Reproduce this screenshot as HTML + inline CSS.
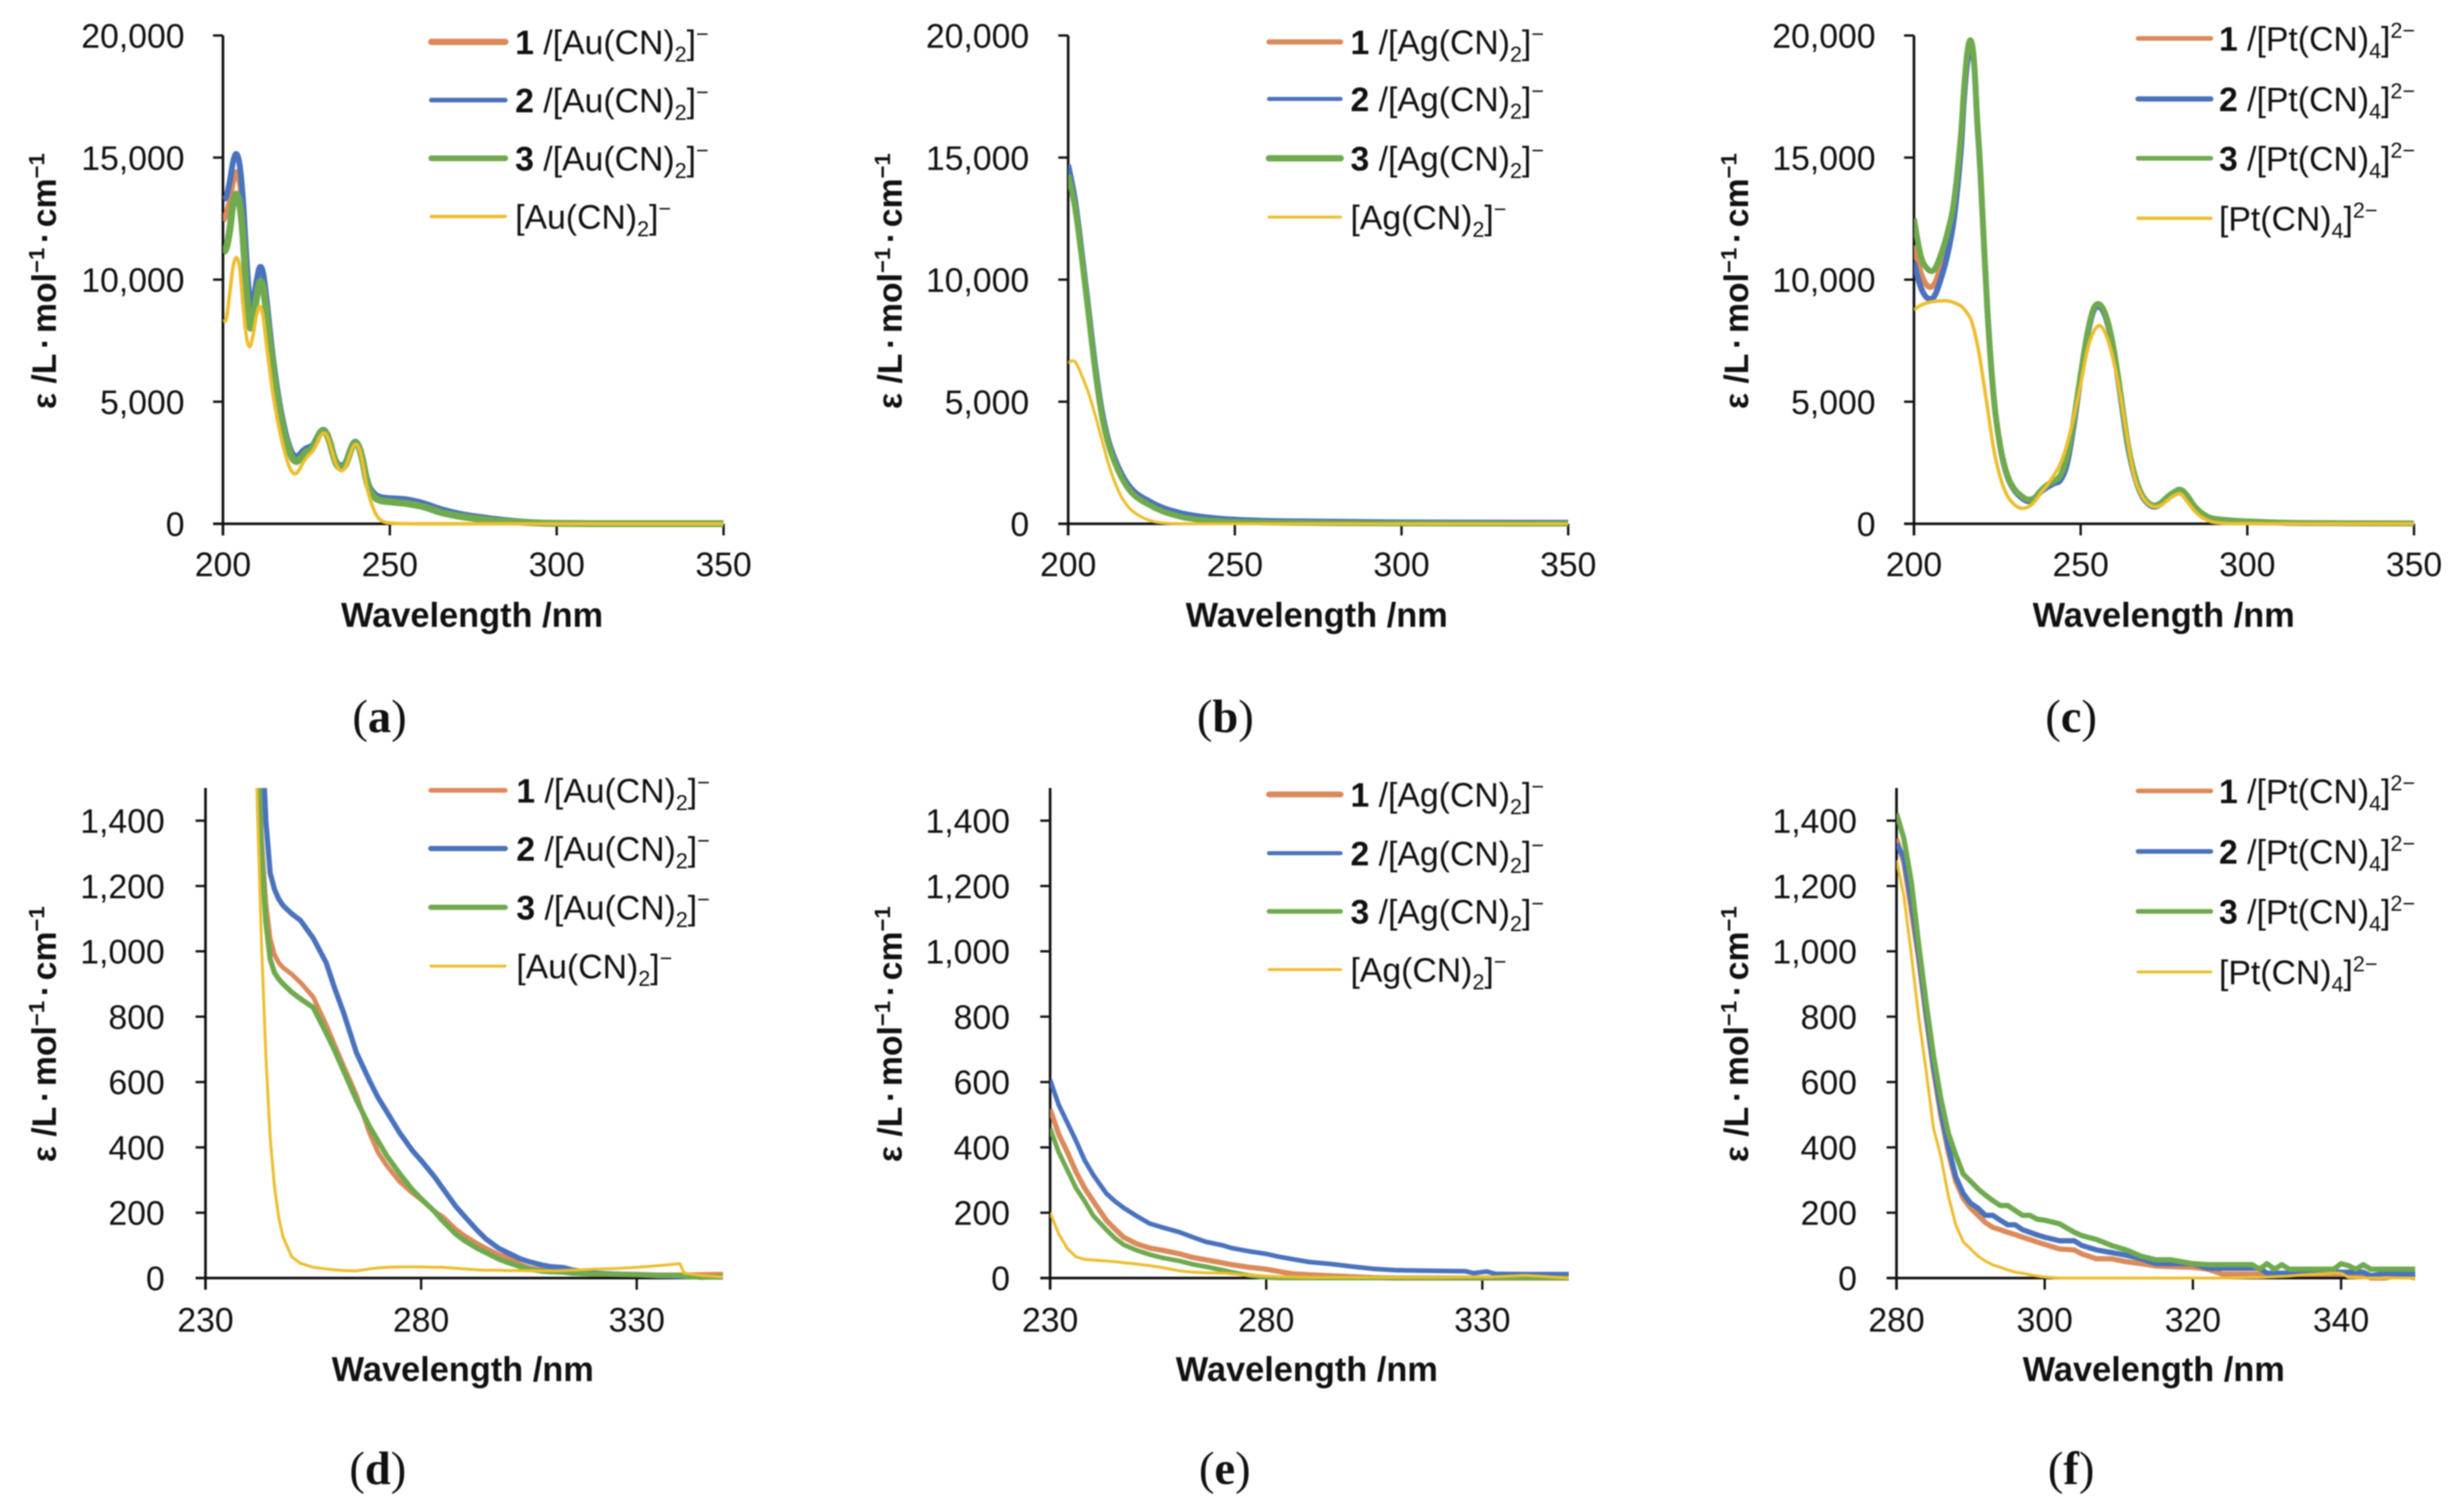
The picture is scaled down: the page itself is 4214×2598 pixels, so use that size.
<!DOCTYPE html>
<html lang="en">
<head>
<meta charset="utf-8">
<title>UV-vis absorption spectra panels</title>
<style>
html,body{margin:0;padding:0;background:#fff;}
#stage{display:block;width:4214px;height:2598px;filter:blur(1px);}
text{font-family:"Liberation Sans",Arial,sans-serif;fill:#111;}
.cap{font-family:"Liberation Serif","Times New Roman",serif;}
</style>
</head>
<body>
<svg id="stage" xmlns="http://www.w3.org/2000/svg" width="4214" height="2598" viewBox="0 0 4214 2598"></svg>
<script>
/* ---------- Panel (a) ---------- */
const a_wavelengths=[200,201,202,203,204,205,206,207,208,209,210,211,212,213,214,215,216,217,218,219,220,221,222,223,224,225,226,227,228,229,230,231,232,233,234,235,236,237,238,239,240,241,242,243,244,245,246,247,248,250,255,260,265,270,275,280,285,290,295,300,310,320,350];
const a_complex1=[12400,12700,13200,14000,14400,14000,12600,10400,8700,8600,9400,10000,9800,8900,7700,6500,5500,4700,4000,3450,3000,2720,2650,2750,2900,3020,3080,3200,3450,3720,3820,3720,3370,2870,2480,2340,2340,2540,2940,3270,3320,3070,2540,1850,1400,1190,1060,1000,970,950,880,740,520,360,260,170,110,70,35,22,10,6,6];
const a_complex2=[13300,13400,14000,14800,15150,14700,13300,11000,9200,9100,9900,10500,10300,9300,8000,6800,5800,4900,4200,3600,3150,2850,2750,2850,3000,3100,3150,3250,3500,3750,3850,3750,3400,2900,2550,2400,2400,2600,3000,3300,3350,3100,2600,1950,1500,1300,1170,1110,1080,1050,1000,850,620,440,320,230,150,90,50,30,15,10,10];
const a_complex3=[11100,11300,12000,13100,13500,13100,11800,9600,8100,8300,9200,9900,9700,8700,7500,6400,5400,4600,3900,3400,2950,2650,2550,2650,2800,2950,3000,3150,3400,3700,3800,3700,3350,2850,2450,2300,2300,2500,2900,3250,3300,3050,2500,1800,1350,1150,1020,960,930,900,830,700,480,330,230,150,100,60,30,20,8,5,5];
const a_free=[8300,8400,9400,10500,10900,10500,9000,7700,7250,7700,8500,8900,8500,7400,6300,5300,4500,3800,3200,2700,2300,2080,2060,2250,2500,2700,2850,3000,3250,3550,3700,3650,3300,2800,2400,2200,2200,2400,2800,3150,3250,3000,2400,1600,1050,650,350,180,90,30,5,0,0,0,0,0,0,0,0,0,0,0,0];

/* ---------- Panel (b) ---------- */
const b_wavelengths=[200,202,204,206,208,210,212,214,216,218,220,222,224,226,228,230,235,240,245,250,260,270,280,300,320,350];
const b_complex1=[14300,12950,10950,8700,6400,4550,3350,2550,1950,1500,1200,1000,850,700,580,480,300,200,140,110,70,50,40,25,15,10];
const b_complex2=[14700,13300,11200,8900,6600,4700,3450,2650,2050,1600,1300,1100,950,800,680,580,400,290,220,170,120,100,85,60,50,45];
const b_complex3=[14300,13000,11000,8700,6400,4500,3300,2500,1900,1450,1150,950,800,650,530,430,250,160,110,80,50,35,25,15,10,5];
const b_free=[6600,6650,6100,5400,4500,3500,2500,1700,1100,700,450,280,160,80,40,20,5,0,0,0,0,0,0,0,0,0];

/* ---------- Panel (c) ---------- */
const c_wavelengths=[200,202,204,206,208,210,212,214,215,216,217,218,219,220,222,224,226,228,230,232,234,236,238,240,242,244,246,248,250,252,254,256,258,260,262,264,266,268,270,272,274,276,278,280,282,284,286,288,290,295,300,310,320,350];
const c_complex1=[11400,10300,9750,9800,10500,11500,12900,15500,17600,19100,19650,18950,16450,14250,8800,5100,3100,2000,1420,1130,960,1020,1320,1550,1700,1900,2650,4200,6050,7750,8800,8900,8300,7050,5250,3350,2080,1280,880,730,830,1080,1280,1380,1120,720,450,280,190,120,90,45,28,14];
const c_complex2=[10700,9700,9250,9300,10000,11000,12500,15200,17400,18900,19500,18900,16400,14200,8800,5100,3050,1950,1400,1100,930,1000,1300,1500,1650,1800,2500,4100,6000,7700,8750,8850,8250,7000,5200,3300,2050,1250,850,700,800,1050,1250,1350,1100,700,430,260,170,110,80,40,25,12];
const c_complex3=[12500,11000,10450,10400,11000,11900,13200,15800,17800,19300,19800,19000,16500,14300,8800,5100,3100,2000,1450,1170,1000,1050,1350,1600,1750,2000,2800,4300,6100,7800,8850,8950,8350,7100,5300,3400,2100,1300,900,750,850,1100,1300,1400,1150,750,480,300,210,140,100,50,30,15];
const c_free=[8760,8950,9050,9110,9130,9130,9060,8930,8800,8620,8400,7950,7350,6600,4800,3000,1850,1150,800,640,680,880,1250,1600,2000,2480,3300,4400,5700,7100,7900,8100,7600,6600,5200,3500,2000,1250,850,700,750,950,1150,1220,900,550,300,150,60,10,5,0,0,0];

/* ---------- Panel (d) ---------- */
const d_wavelengths=[240,242,243,244,245,246,247,248,250,252,255,258,260,262,265,268,270,272,275,278,280,283,285,288,290,293,295,298,300,303,305,308,310,313,315,320,325,330,335,340,341,345,350];
const d_complex1=[2900,1700,1350,1150,1040,990,965,950,930,905,860,775,712,650,560,445,385,345,295,260,240,205,188,150,130,106,92,72,63,42,32,25,22,20,18,15,13,12,10,10,10,11,12];
const d_complex2=[3000,2400,1700,1400,1240,1190,1160,1140,1115,1095,1040,965,885,813,690,605,553,510,445,390,360,312,275,220,190,146,120,91,78,59,50,40,35,32,25,15,12,10,7,5,5,3,3];
const d_complex3=[2900,1650,1300,1090,976,935,915,900,875,855,828,750,695,635,545,465,420,375,320,270,243,205,175,135,115,91,78,58,48,35,27,21,19,18,15,12,11,10,8,8,6,2,5];
const d_free=[2600,1450,1020,680,430,280,185,125,65,45,33,28,25,23,22,28,31,33,34,34,34,33,33,30,28,25,24,24,23,23,22,22,22,23,24,27,29,33,38,44,15,8,3];

/* ---------- Panel (e) ---------- */
const e_wavelengths=[230,232,234,236,238,240,243,245,247,250,253,256,260,263,266,270,272,276,280,283,286,290,295,300,305,310,320,326,328,331,333,340,350];
const e_complex1=[517,440,385,325,275,235,177,150,125,105,92,85,74,63,56,46,41,33,27,20,13,10,7,4,1,0,0,0,0,0,0,0,0];
const e_complex2=[606,530,475,420,360,315,259,235,215,190,167,155,140,125,111,100,92,82,74,65,58,49,43,35,28,24,22,21,15,20,13,12,12];
const e_complex3=[458,385,330,275,235,190,148,122,102,85,72,62,52,42,35,24,18,8,2,0,0,0,0,0,0,0,0,0,0,0,0,0,0];
const e_free=[200,135,90,65,57,55,52,50,47,43,38,32,22,18,16,15,13,9,6,4,3,2,2,2,2,2,2,3,3,3,4,8,0];

/* ---------- Panel (f) ---------- */
const f_wavelengths=[280,281,282,283,284,285,286,287,288,289,290,291,292,293,294,295,296,297,298,299,300,302,304,305,307,309,311,313,315,317,320,322,324,328,329,330,331,332,333,335,339,340,341,342,343,344,346,348,350];
const f_complex1=[1345,1271,1123,975,798,635,495,384,296,244,214,192,170,155,148,140,133,125,118,110,103,89,86,74,59,59,50,44,37,35,33,27,12,12,12,12,12,12,12,12,12,12,12,12,12,0,0,10,0];
const f_complex2=[1330,1286,1153,990,813,650,510,399,310,259,229,214,192,192,177,163,163,148,140,132,125,114,114,100,86,78,70,59,44,44,44,30,30,30,30,15,15,15,15,15,18,18,18,18,18,7,15,12,12];
const f_complex3=[1422,1345,1212,1020,843,680,547,443,377,318,296,273,254,237,222,222,207,192,192,180,177,166,140,130,118,100,86,67,56,56,44,41,41,41,27,44,27,41,27,27,27,44,38,27,41,27,27,27,27];
const f_free=[1279,1168,990,798,635,458,370,251,163,111,89,67,52,40,33,25,18,15,10,6,3,0,0,0,0,0,0,0,0,0,0,0,0,2,2,3,4,5,6,10,15,15,2,1,0,0,0,0,0];

/* ---------- Tick labels ---------- */
const top_y_ticks=[0,5000,10000,15000,20000];
const zoom_y_ticks=[0,200,400,600,800,1000,1200,1400];
const top_x_ticks=[200,250,300,350];
const zoom_x_ticks=[230,280,330];
const f_x_ticks=[280,300,320,340];

const colors=["#DB8A5A","#4A72BE","#6FAA4E","#EDBE30"];
const NS="http://www.w3.org/2000/svg";
const svg=document.getElementById("stage");

const panels=[
 {id:"a",metal:"Au(CN)",n:"2",chg:"−",wl:a_wavelengths,series:[a_complex1,a_complex2,a_complex3,a_free],xMin:200,xMax:350,yMax:20000,xTicks:top_x_ticks,yTicks:top_y_ticks,
  x0:383,x1:1243,y0:900,y1:61,widths:[10,10,12,6],legW:[11,8,10,6],smooth:true,labelR:317,titleX:76,titleY:483,xLabelX:811,xTickBase:990,xLabelBase:1079,capX:652,capBase:1258,legX:[741,868,885],legY:[72,172,272,372]},
 {id:"b",metal:"Ag(CN)",n:"2",chg:"−",wl:b_wavelengths,series:[b_complex1,b_complex2,b_complex3,b_free],xMin:200,xMax:350,yMax:20000,xTicks:top_x_ticks,yTicks:top_y_ticks,
  x0:1835,x1:2694,y0:900,y1:61,widths:[9,10,10,5],legW:[9,7,11,5],smooth:true,labelR:1768,titleX:1529,titleY:483,xLabelX:2262,xTickBase:990,xLabelBase:1079,capX:2105,capBase:1258,legX:[2180,2303,2320],legY:[72,170,272,373]},
 {id:"c",metal:"Pt(CN)",n:"4",chg:"2−",wl:c_wavelengths,series:[c_complex1,c_complex2,c_complex3,c_free],xMin:200,xMax:350,yMax:20000,xTicks:top_x_ticks,yTicks:top_y_ticks,
  x0:3288,x1:4147,y0:900,y1:61,widths:[10,10,10,6],legW:[8,9,8,6],smooth:true,labelR:3222,titleX:2983,titleY:483,xLabelX:3717,xTickBase:990,xLabelBase:1079,capX:3558,capBase:1258,legX:[3673,3798,3812],legY:[66,170,272,375]},
 {id:"d",metal:"Au(CN)",n:"2",chg:"−",wl:d_wavelengths,series:[d_complex1,d_complex2,d_complex3,d_free],xMin:230,xMax:350,yMax:1500,xTicks:zoom_x_ticks,yTicks:zoom_y_ticks,
  x0:353,x1:1242,y0:2196,y1:1354,widths:[8,9,9,5],legW:[8,9,9,5],smooth:false,labelR:283,titleX:76,titleY:1777,xLabelX:795,xTickBase:2288,xLabelBase:2375,capX:649,capBase:2550,legX:[740,868,887],legY:[1358,1458,1559,1660]},
 {id:"e",metal:"Ag(CN)",n:"2",chg:"−",wl:e_wavelengths,series:[e_complex1,e_complex2,e_complex3,e_free],xMin:230,xMax:350,yMax:1500,xTicks:zoom_x_ticks,yTicks:zoom_y_ticks,
  x0:1804,x1:2695,y0:2196,y1:1354,widths:[9,8,8,5],legW:[10,7,8,5],smooth:false,labelR:1735,titleX:1529,titleY:1777,xLabelX:2245,xTickBase:2288,xLabelBase:2375,capX:2104,capBase:2550,legX:[2180,2303,2320],legY:[1365,1466,1566,1666]},
 {id:"f",metal:"Pt(CN)",n:"4",chg:"2−",wl:f_wavelengths,series:[f_complex1,f_complex2,f_complex3,f_free],xMin:280,xMax:350,yMax:1500,xTicks:f_x_ticks,yTicks:zoom_y_ticks,
  x0:3258,x1:4149,y0:2196,y1:1354,widths:[9,9,9,5],legW:[8,8,8,5],smooth:false,labelR:3190,titleX:2983,titleY:1777,xLabelX:3700,xTickBase:2288,xLabelBase:2375,capX:3558,capBase:2550,legX:[3673,3798,3812],legY:[1359,1463,1566,1670]}
];

function mk(tag,attrs,parent){
  const el=document.createElementNS(NS,tag);
  for(const k in attrs){el.setAttribute(k,attrs[k]);}
  parent.appendChild(el);
  return el;
}
function addSpan(parent,txt,attrs){
  const t=mk("tspan",attrs||{},parent);
  t.textContent=txt;
  return t;
}
function xScale(p,v){return p.x0+(v-p.xMin)/(p.xMax-p.xMin)*(p.x1-p.x0);}
function yScale(p,v){return p.y0-v/p.yMax*(p.y0-p.y1);}
function fmt(v){return v.toLocaleString("en-US");}

function linePath(pts){
  return pts.map((q,i)=>(i?"L":"M")+q[0].toFixed(1)+" "+q[1].toFixed(1)).join("");
}
function smoothPath(pts){
  let d="M"+pts[0][0].toFixed(1)+" "+pts[0][1].toFixed(1);
  for(let i=0;i<pts.length-1;i++){
    const p0=pts[i-1]||pts[i],p1=pts[i],p2=pts[i+1],p3=pts[i+2]||p2;
    const c1x=p1[0]+(p2[0]-p0[0])/6,c1y=p1[1]+(p2[1]-p0[1])/6;
    const c2x=p2[0]-(p3[0]-p1[0])/6,c2y=p2[1]-(p3[1]-p1[1])/6;
    d+="C"+c1x.toFixed(1)+" "+c1y.toFixed(1)+" "+c2x.toFixed(1)+" "+c2y.toFixed(1)+" "+p2[0].toFixed(1)+" "+p2[1].toFixed(1);
  }
  return d;
}

const defs=mk("defs",{},svg);

panels.forEach(function(p){
  const g=mk("g",{},svg);
  
  

  const clip=mk("clipPath",{id:"clip-"+p.id},defs);
  mk("rect",{x:p.x0,y:p.y1,width:p.x1-p.x0+4,height:p.y0-p.y1+12},clip);

  /* axes */
  const yAxis=mk("line",{x1:p.x0,x2:p.x0,y1:p.y1,y2:p.y0+20,stroke:"#111","stroke-width":4.5},g);
  
  
  const xAxis=mk("line",{x1:p.x0-17,x2:p.x1,y1:p.y0,y2:p.y0,stroke:"#111","stroke-width":4.5},g);
  
  

  /* y ticks */
  p.yTicks.forEach(function(v){
    const y=yScale(p,v);
    const tick=mk("line",{x1:p.x0-17,x2:p.x0,y1:y,y2:y,stroke:"#111","stroke-width":4},g);
    
    
    const lab=mk("text",{x:p.labelR,y:y+21,"text-anchor":"end","font-size":58},g);
    
    
    lab.textContent=fmt(v);
  });

  /* x ticks */
  p.xTicks.forEach(function(v){
    const x=xScale(p,v);
    const tick=mk("line",{x1:x,x2:x,y1:p.y0,y2:p.y0+20,stroke:"#111","stroke-width":4},g);
    
    
    const lab=mk("text",{x:x,y:p.xTickBase,"text-anchor":"middle","font-size":58},g);
    
    
    lab.textContent=String(v);
  });

  /* axis titles */
  const xt=mk("text",{x:p.xLabelX,y:p.xLabelBase-2,"text-anchor":"middle","font-size":59,"font-weight":"bold"},g);
  
  
  xt.textContent="Wavelength /nm";

  const yt=mk("text",{transform:"translate("+(p.titleX+20)+" "+p.titleY+") rotate(-90)","text-anchor":"middle","font-size":58,"font-weight":"bold"},g);
  
  
  addSpan(yt,"ε /L");
  addSpan(yt,"·",{dx:8});
  addSpan(yt,"mol",{dx:8});
  addSpan(yt,"−1",{"font-size":38,dy:-20});
  addSpan(yt,"·",{dx:8,dy:20});
  addSpan(yt,"cm",{dx:8});
  addSpan(yt,"−1",{"font-size":38,dy:-20});

  /* series */
  const sg=mk("g",{"clip-path":"url(#clip-"+p.id+")"},g);
  
  
  p.series.forEach(function(vals,i){
    const pts=p.wl.map(function(w,j){return [xScale(p,w),yScale(p,vals[j])];});
    const path=mk("path",{d:p.smooth?smoothPath(pts):linePath(pts),fill:"none",stroke:colors[i],"stroke-width":p.widths[i],"stroke-linejoin":"round","stroke-linecap":"butt"},sg);
    
    
  });

  /* legend */
  const lg=mk("g",{},g);
  
  
  p.legY.forEach(function(y,i){
    const key=mk("line",{x1:p.legX[0],x2:p.legX[1],y1:y,y2:y,stroke:colors[i],"stroke-width":p.legW[i],"stroke-linecap":"round"},lg);
    
    
    const t=mk("text",{x:p.legX[2],y:y+21,"font-size":58},lg);
    
    
    if(i<3){
      addSpan(t,String(i+1),{"font-weight":"bold"});
      addSpan(t,"\u00a0/");
    }
    addSpan(t,"["+p.metal);
    addSpan(t,p.n,{"font-size":37,dy:13});
    addSpan(t,"]",{dy:-13});
    addSpan(t,p.chg,{"font-size":37,dy:-22});
  });

  /* caption */
  const cap=mk("text",{x:p.capX,y:p.capBase,"text-anchor":"middle","font-size":80,"class":"cap"},g);
  
  
  addSpan(cap,"(");
  addSpan(cap,p.id,{"font-weight":"bold"});
  addSpan(cap,")");
});
</script>
</body>
</html>
